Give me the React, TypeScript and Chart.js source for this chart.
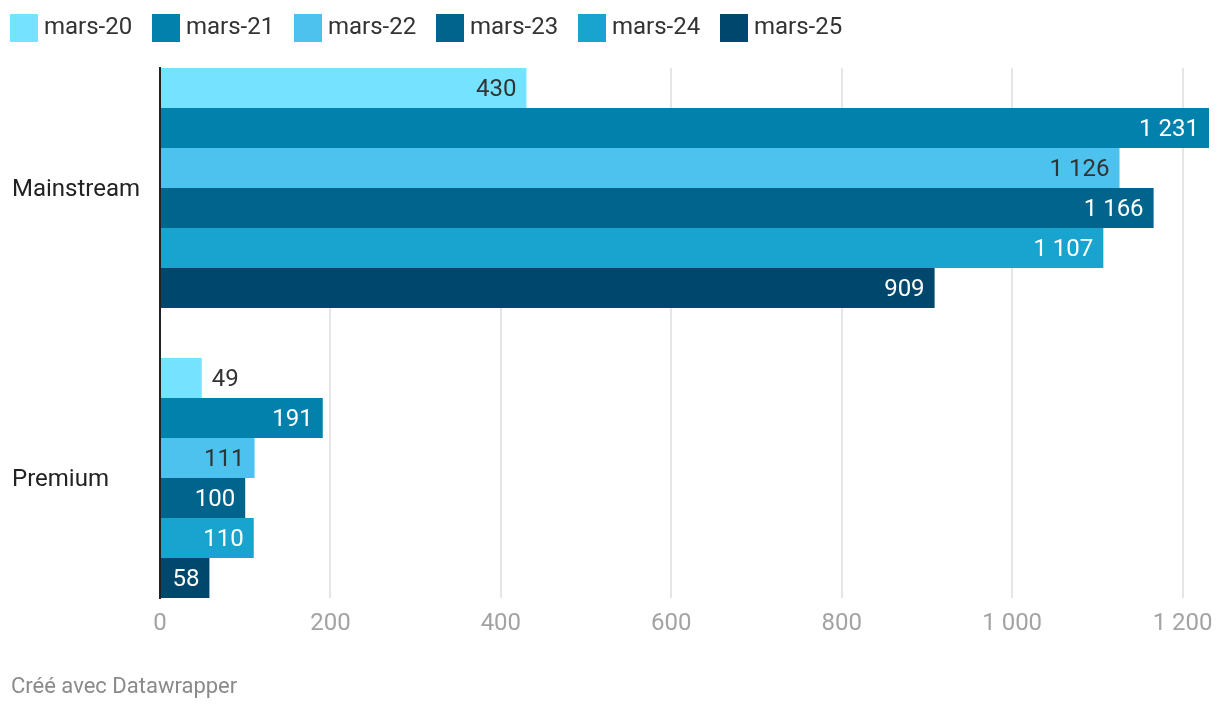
import React, { useEffect, useRef } from 'react';
import { Chart, registerables } from 'chart.js';

Chart.register(...registerables);

const categories = ['Mainstream', 'Premium'];
const seriesNames = ['mars-20', 'mars-21', 'mars-22', 'mars-23', 'mars-24', 'mars-25'];
const mars20 = [430, 49];
const mars21 = [1231, 191];
const mars22 = [1126, 111];
const mars23 = [1166, 100];
const mars24 = [1107, 110];
const mars25 = [909, 58];
const seriesValues = [mars20, mars21, mars22, mars23, mars24, mars25];
const xTicks = [0, 200, 400, 600, 800, 1000, 1200];
const xMax = 1231;
const footerText = 'Créé avec Datawrapper';

const colors = ['#75e2ff', '#0281ad', '#4dc2ee', '#00648d', '#19a3cf', '#00476e'];
const darkText = [true, false, true, false, false, false];

function fmt(v: number): string {
  return String(Math.round(v)).replace(/\B(?=(\d{3})+(?!\d))/g, ' ');
}

const valueLabels = {
  id: 'valueLabels',
  afterDatasetsDraw(chart: any) {
    const ctx = chart.ctx;
    ctx.save();
    ctx.font = '24px Roboto';
    ctx.textBaseline = 'middle';
    chart.data.datasets.forEach((ds: any, di: number) => {
      const meta = chart.getDatasetMeta(di);
      meta.data.forEach((el: any, i: number) => {
        const v = ds.data[i].x;
        const txt = fmt(v);
        const w = ctx.measureText(txt).width;
        const { x, y, base } = el.getProps(['x', 'y', 'base'], true);
        const pad = 10;
        if (x - base >= w + 2 * pad) {
          ctx.textAlign = 'right';
          ctx.fillStyle = darkText[di] ? '#333333' : '#ffffff';
          ctx.fillText(txt, x - pad, y + 2);
        } else {
          ctx.textAlign = 'left';
          ctx.fillStyle = '#333333';
          ctx.fillText(txt, x + pad, y + 2);
        }
      });
    });
    ctx.restore();
  },
};

export default function App() {
  const canvasRef = useRef<HTMLCanvasElement | null>(null);

  useEffect(() => {
    if (!canvasRef.current) return;
    const chart = new Chart(canvasRef.current, {
      type: 'bar',
      data: {
        datasets: seriesNames.map((name, si) => ({
          label: name,
          data: seriesValues[si].map((v, i) => ({ x: v, y: i })),
          backgroundColor: colors[si],
          borderWidth: 0,
          categoryPercentage: 240 / 290,
          barPercentage: 1,
        })) as any,
      },
      options: {
        indexAxis: 'y',
        responsive: false,
        animation: false,
        devicePixelRatio: 1,
        layout: { padding: { left: 12, right: 11, top: 68, bottom: 64 } },
        plugins: {
          legend: { display: false },
          tooltip: { enabled: false },
        },
        scales: {
          x: {
            type: 'linear',
            position: 'bottom',
            min: 0,
            max: xMax,
            afterBuildTicks: (s: any) => {
              s.ticks = xTicks.map((v) => ({ value: v }));
            },
            ticks: {
              padding: 12,
              color: '#a3a3a3',
              font: { size: 24, family: 'Roboto' },
              maxRotation: 0,
              autoSkip: false,
              callback: (v: any) => fmt(Number(v)),
            },
            grid: {
              color: (c: any) => (c.tick && c.tick.value === 0 ? 'rgba(0,0,0,0)' : '#e5e5e5'),
              lineWidth: 2,
              drawTicks: false,
            },
            border: { display: false },
            afterFit: (s: any) => {
              s.height = 50;
              s.paddingLeft = 0;
              s.paddingRight = 0;
            },
          },
          y: {
            type: 'linear',
            position: 'left',
            min: -0.41379,
            max: 1.41379,
            reverse: true,
            offset: false,
            z: 1,
            ticks: {
              stepSize: 1,
              includeBounds: false,
              crossAlign: 'far',
              labelOffset: 2,
              color: '#222222',
              font: { size: 24, family: 'Roboto' },
              autoSkip: false,
              callback: (v: any) => (Number.isInteger(v) && categories[v] !== undefined ? categories[v] : ''),
            },
            grid: { display: false, offset: false },
            border: { display: true, color: '#222222', width: 2 },
            afterFit: (s: any) => {
              s.width = 148;
              s.paddingTop = 0;
              s.paddingBottom = 0;
            },
          },
        } as any,
      },
      plugins: [valueLabels],
    });
    return () => chart.destroy();
  }, []);

  return (
    <div
      style={{
        position: 'absolute',
        left: 0,
        top: 0,
        width: 1220,
        height: 712,
        background: '#ffffff',
        fontFamily: 'Roboto, sans-serif',
      }}
    >
      <canvas
        ref={canvasRef}
        width={1220}
        height={712}
        style={{ position: 'absolute', left: 0, top: 0, width: 1220, height: 712, display: 'block' }}
      />
      {seriesNames.map((name, i) => (
        <React.Fragment key={name}>
          <div
            style={{
              position: 'absolute',
              left: 10 + 142 * i,
              top: 14,
              width: 28,
              height: 28,
              background: colors[i],
            }}
          />
          <div
            style={{
              position: 'absolute',
              left: 44 + 142 * i,
              top: 12,
              height: 28,
              lineHeight: '28px',
              fontSize: 24,
              color: '#333333',
              whiteSpace: 'nowrap',
            }}
          >
            {name}
          </div>
        </React.Fragment>
      ))}
      <div
        style={{
          position: 'absolute',
          left: 11,
          top: 673,
          lineHeight: '26px',
          fontSize: 22,
          color: '#8a8a8a',
          whiteSpace: 'nowrap',
        }}
      >
        {footerText}
      </div>
    </div>
  );
}
